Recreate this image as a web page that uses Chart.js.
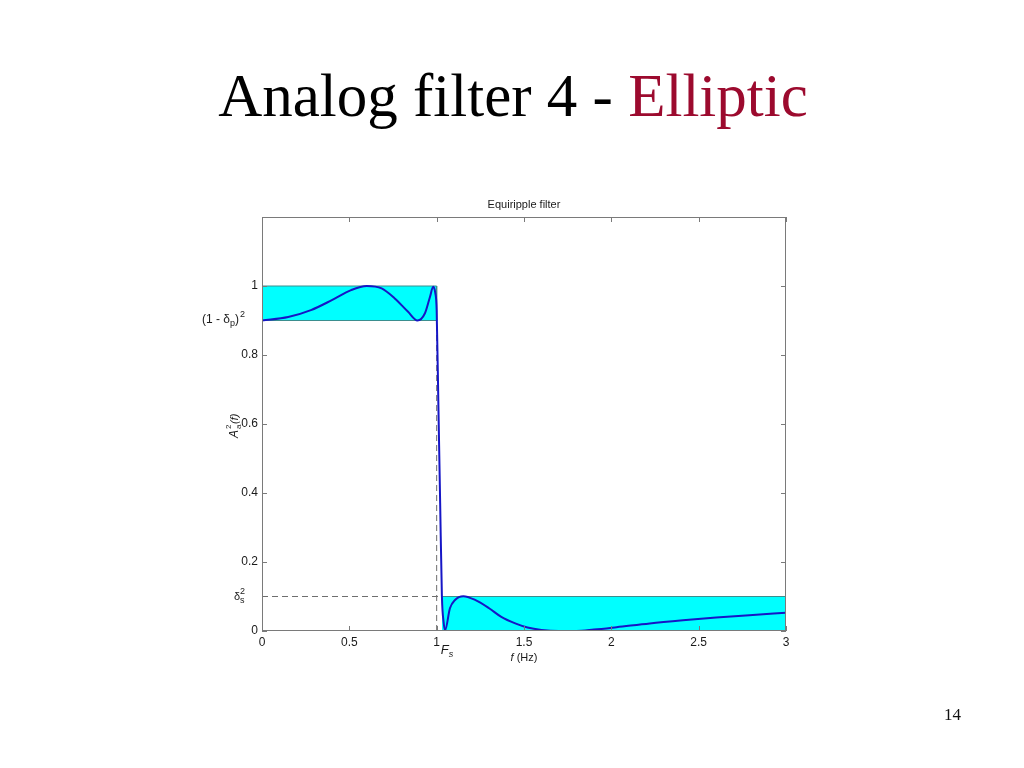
<!DOCTYPE html>
<html>
<head>
<meta charset="utf-8">
<script src="https://cdn.jsdelivr.net/npm/chart.js@4.4.0/dist/chart.umd.min.js"></script>
<style>
html, body { margin: 0; padding: 0; background: #fff; width: 1024px; height: 768px; overflow: hidden; }
#slideTitle { position: absolute; left: 0; top: 65px; width: 1026px; text-align: center; line-height: 1;
  font-family: 'Liberation Serif', 'Times New Roman', serif; font-size: 61px; color: #000; white-space: nowrap; }
#slideTitle span { color: #9c0a2e; }
#pageNum { position: absolute; left: 944px; top: 705px; font-family: 'Liberation Serif', serif; font-size: 17px; color: #111; }
#plot { position: absolute; left: 0; top: 0; }
</style>
</head>
<body>
<div id="slideTitle">Analog filter 4 - <span>Elliptic</span></div>
<canvas id="plot" width="1024" height="768"></canvas>
<div id="pageNum">14</div>
<script>
// squared magnitude response
const freq = [0, 0.15, 0.28, 0.4, 0.51, 0.6, 0.685, 0.76, 0.835, 0.89, 0.933, 0.962, 0.98, 0.992, 1.0,
  1.01, 1.02, 1.03, 1.04, 1.048, 1.076, 1.105, 1.153, 1.22, 1.3, 1.37, 1.45, 1.52, 1.6, 1.7, 1.8, 1.9,
  2.03, 2.22, 2.41, 2.6, 2.79, 3.0];
const amp = [0.9, 0.91, 0.93, 0.959, 0.988, 1.0, 0.993, 0.964, 0.926, 0.9, 0.921, 0.969, 0.998, 0.98, 0.93,
  0.65, 0.37, 0.1, 0.025, 0.002, 0.066, 0.09, 0.101, 0.09, 0.066, 0.041, 0.022, 0.01, 0.003, 0.0, 0.0, 0.004,
  0.011, 0.022, 0.031, 0.039, 0.046, 0.053];

// tolerance bands
const passEdge = 1.0;      // F_p
const stopEdge = 1.03;     // F_s
const passLow = 0.9;       // (1 - dp)^2
const passHigh = 1.0;
const stopHigh = 0.1;      // ds^2
const fMax = 3;

const xTicks = [0, 0.5, 1, 1.5, 2, 2.5, 3];
const yTicks = [0, 0.2, 0.4, 0.6, 0.8, 1];

const axisGray = '#7a7a7a';
const bandEdge = '#3b8e8e';
const tickFont = { family: "'Liberation Sans', Arial, sans-serif", size: 12 };

const decorations = {
    id: 'decorations',
    afterDraw(chart) {
        const ctx = chart.ctx;
        const a = chart.chartArea;
        const xs = chart.scales.x, ys = chart.scales.y;
        ctx.save();
        // box
        ctx.strokeStyle = axisGray;
        ctx.lineWidth = 1;
        ctx.strokeRect(a.left + 0.5, a.top + 0.5, a.right - a.left - 1, a.bottom - a.top - 1);
        // inward ticks
        ctx.beginPath();
        xTicks.forEach(v => {
            const px = Math.round(xs.getPixelForValue(v)) + 0.5;
            ctx.moveTo(px, a.bottom); ctx.lineTo(px, a.bottom - 5);
            ctx.moveTo(px, a.top); ctx.lineTo(px, a.top + 5);
        });
        yTicks.concat([1.2]).forEach(v => {
            const py = Math.round(ys.getPixelForValue(v)) + 0.5;
            ctx.moveTo(a.left, py); ctx.lineTo(a.left + 5, py);
            ctx.moveTo(a.right, py); ctx.lineTo(a.right - 5, py);
        });
        ctx.stroke();

        ctx.fillStyle = '#1a1a1a';
        const sans = "'Liberation Sans', Arial, sans-serif";
        // plot title
        ctx.font = '11px ' + sans;
        ctx.textAlign = 'center';
        ctx.textBaseline = 'alphabetic';
        ctx.fillText('Equiripple filter', (a.left + a.right) / 2, 208);

        // x axis label
        ctx.textAlign = 'left';
        ctx.font = 'italic 11px ' + sans;
        const fw = ctx.measureText('f').width;
        ctx.font = '11px ' + sans;
        const rw = ctx.measureText(' (Hz)').width;
        let x0 = (a.left + a.right) / 2 - (fw + rw) / 2;
        ctx.font = 'italic 11px ' + sans;
        ctx.fillText('f', x0, 661);
        ctx.font = '11px ' + sans;
        ctx.fillText(' (Hz)', x0 + fw, 661);

        // F_s next to the 1 tick
        const fsx = xs.getPixelForValue(passEdge) + 4;
        ctx.font = 'italic 13px ' + sans;
        ctx.fillText('F', fsx, 654);
        ctx.font = 'italic 9px ' + sans;
        ctx.fillText('s', fsx + 8, 657);

        // (1 - dp)^2 label
        const pyp = ys.getPixelForValue(passLow) + 2;
        ctx.font = '12px ' + sans;
        let lx = 202;
        const part1 = '(1 - \u03b4';
        ctx.fillText(part1, lx, pyp);
        lx += ctx.measureText(part1).width;
        ctx.font = '9px ' + sans;
        ctx.fillText('p', lx, pyp + 3);
        lx += ctx.measureText('p').width;
        ctx.font = '12px ' + sans;
        ctx.fillText(')', lx, pyp);
        lx += ctx.measureText(')').width;
        ctx.font = '9px ' + sans;
        ctx.fillText('2', lx + 1, pyp - 6);

        // ds^2 label
        const pys = ys.getPixelForValue(stopHigh) + 3;
        ctx.font = '11px ' + sans;
        ctx.fillText('\u03b4', 234, pys);
        ctx.font = '9px ' + sans;
        ctx.fillText('s', 240, pys + 3);
        ctx.fillText('2', 240, pys - 6);

        // y axis label, rotated
        ctx.translate(238, 425);
        ctx.rotate(-Math.PI / 2);
        ctx.textAlign = 'left';
        let tx = -13;
        ctx.font = 'italic 12px ' + sans;
        ctx.fillText('A', tx, 0);
        tx += ctx.measureText('A').width;
        ctx.font = '8px ' + sans;
        ctx.fillText('2', tx + 1, -7);
        ctx.fillText('a', tx + 1, 3);
        tx += 6;
        ctx.font = 'italic 11px ' + sans;
        ctx.fillText('(f)', tx, 0);
        ctx.restore();
    }
};

new Chart(document.getElementById('plot'), {
    type: 'line',
    data: {
        datasets: [
            {
                label: 'A2',
                data: freq.map((f, i) => ({ x: f, y: amp[i] })),
                borderColor: '#1616c6',
                borderWidth: 2,
                pointRadius: 0,
                cubicInterpolationMode: 'monotone',
                fill: false,
                order: 0
            },
            {
                label: 'passband',
                data: [{ x: 0, y: passLow }, { x: 0, y: passHigh }, { x: passEdge, y: passHigh }, { x: passEdge, y: passLow }],
                borderColor: bandEdge,
                borderWidth: 1,
                backgroundColor: '#00ffff',
                pointRadius: 0,
                tension: 0,
                fill: { value: passLow },
                order: 3
            },
            {
                label: 'passband low',
                data: [{ x: 0, y: passLow }, { x: passEdge, y: passLow }],
                borderColor: bandEdge,
                borderWidth: 1,
                pointRadius: 0,
                fill: false,
                order: 2
            },
            {
                label: 'stopband',
                data: [{ x: stopEdge, y: stopHigh }, { x: fMax, y: stopHigh }],
                borderColor: bandEdge,
                borderWidth: 1,
                backgroundColor: '#00ffff',
                pointRadius: 0,
                fill: { value: 0 },
                order: 3
            },
            {
                label: 'ds guide',
                data: [{ x: 0, y: stopHigh }, { x: stopEdge, y: stopHigh }],
                borderColor: '#6e6e6e',
                borderWidth: 1,
                borderDash: [6, 4],
                pointRadius: 0,
                fill: false,
                order: 1
            },
            {
                label: 'Fs guide',
                data: [{ x: passEdge, y: 0 }, { x: passEdge, y: passLow }],
                borderColor: '#6e6e6e',
                borderWidth: 1,
                borderDash: [6, 4],
                pointRadius: 0,
                fill: false,
                order: 1
            }
        ]
    },
    options: {
        responsive: false,
        animation: false,
        layout: { padding: { left: 0, top: 217, right: 238, bottom: 0 } },
        plugins: { legend: { display: false }, tooltip: { enabled: false }, title: { display: false } },
        scales: {
            x: {
                type: 'linear',
                min: 0,
                max: fMax,
                afterFit(scale) { scale.height = 137; },
                afterBuildTicks(scale) { scale.ticks = xTicks.map(v => ({ value: v })); },
                grid: { drawOnChartArea: false, drawTicks: false },
                border: { display: false },
                ticks: {
                    padding: 4,
                    color: '#1a1a1a',
                    font: tickFont,
                    maxRotation: 0,
                    callback: v => String(v)
                }
            },
            y: {
                type: 'linear',
                min: 0,
                max: 1.2,
                afterFit(scale) { scale.width = 262; },
                afterBuildTicks(scale) { scale.ticks = yTicks.map(v => ({ value: v })); },
                grid: { drawOnChartArea: false, drawTicks: false },
                border: { display: false },
                ticks: {
                    padding: 4,
                    color: '#1a1a1a',
                    font: tickFont,
                    callback: v => String(v)
                }
            }
        }
    },
    plugins: [decorations]
});
</script>
</body>
</html>
